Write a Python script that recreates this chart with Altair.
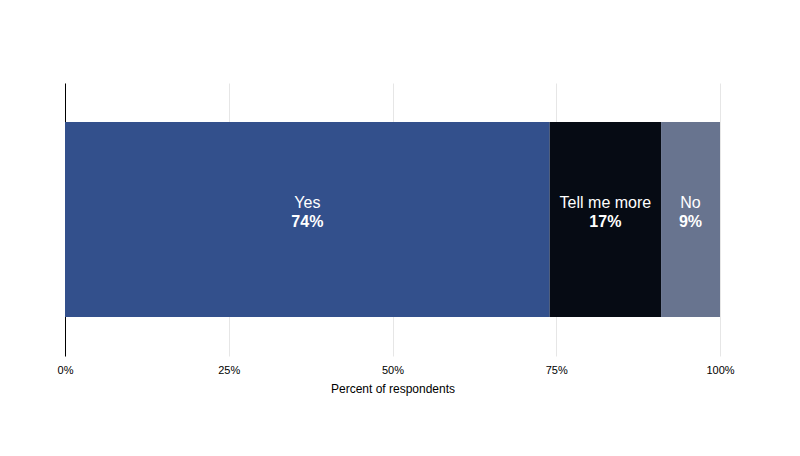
import altair as alt
import pandas as pd

answers = ["Yes", "Tell me more", "No"]
percents = [74, 17, 9]
order = [0, 1, 2]
colors = ["#33508c", "#060b14", "#68748f"]
ticks = [0, 25, 50, 75, 100]

df = pd.DataFrame({"answer": answers, "pct": percents, "ord": order, "row": ["all"] * 3})
df["pct_label"] = df["pct"].astype(str) + "%"

x_enc = alt.X("pct:Q", stack="zero",
              scale=alt.Scale(domain=[0, 100], nice=False),
              axis=alt.Axis(values=ticks, labelExpr="datum.value + '%'", labelFlush=False,
                            title="Percent of respondents", domain=False, ticks=False,
                            gridColor="#e6e6e6", labelFont="Liberation Sans", labelFontSize=11,
                            labelColor="#000", labelPadding=8, titleFont="Liberation Sans",
                            titleFontSize=12, titleFontWeight="normal", titleColor="#000",
                            titlePadding=8))
y_enc = alt.Y("row:N", scale=alt.Scale(paddingInner=0, paddingOuter=0.2),
              axis=alt.Axis(labels=False, ticks=False, title=None, domain=True,
                            domainColor="#000", domainWidth=1, grid=False))

bars = alt.Chart(df).mark_bar().encode(
    y=y_enc,
    x=x_enc,
    order=alt.Order("ord:Q"),
    color=alt.Color("answer:N", scale=alt.Scale(domain=answers, range=colors), legend=None),
)

text_base = alt.Chart(df).transform_window(
    cum="sum(pct)", sort=[alt.SortField("ord")]
).transform_calculate(
    mid="datum.cum - datum.pct / 2"
).encode(
    y=alt.Y("row:N"),
    x=alt.X("mid:Q"),
)

labels = text_base.mark_text(color="white", fontSize=16, font="Liberation Sans", dy=-17).encode(
    text="answer:N",
)
pcts = text_base.mark_text(color="white", fontSize=16, fontWeight="bold", font="Liberation Sans", dy=2).encode(
    text="pct_label:N",
)

chart = alt.layer(bars, labels, pcts).properties(
    width=655, height=273,
    autosize=alt.AutoSizeParams(type="none"),
    padding={"left": 65, "top": 83, "right": 80, "bottom": 100},
).configure_view(stroke=None)

chart.save("out.html", embed_options={"renderer": "svg", "actions": False})
